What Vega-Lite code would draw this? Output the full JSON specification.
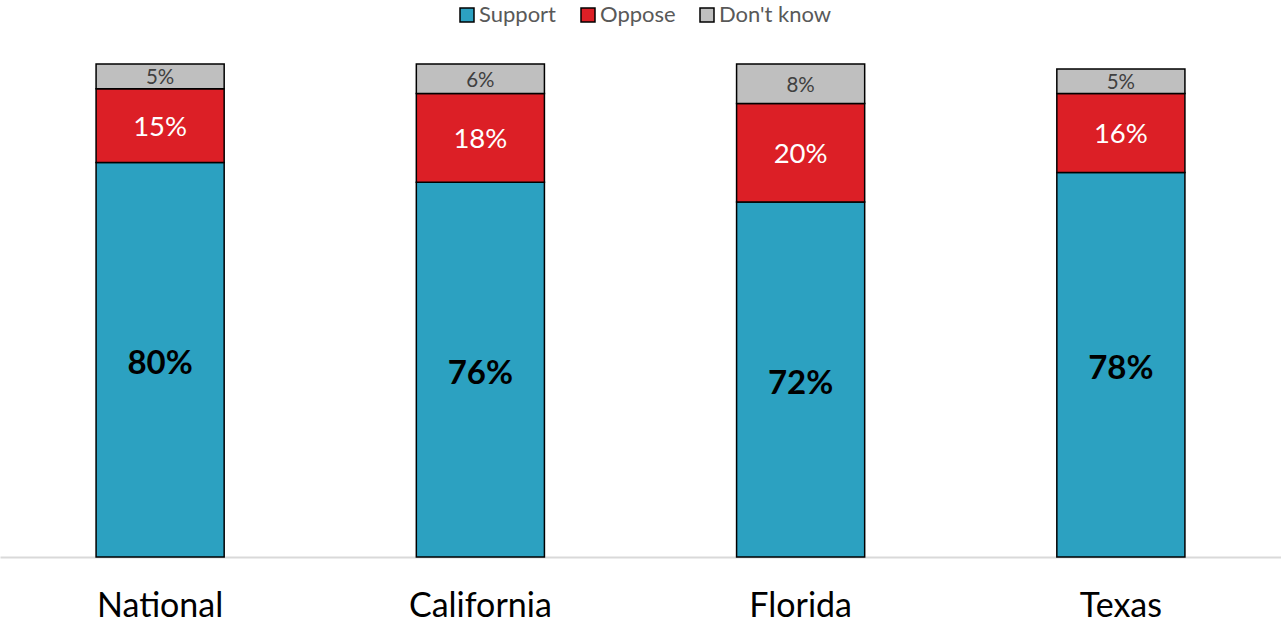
{
  "$schema": "https://vega.github.io/schema/vega-lite/v6.json",
  "width": 1281,
  "height": 493,
  "autosize": {"type": "none"},
  "padding": {"left": 0, "top": 64, "right": 0, "bottom": 67},
  "background": "white",
  "config": {"view": {"stroke": null}, "font": "Lato"},
  "data": {
    "values": [
      {"region": "National", "response": "Support", "pct": 80},
      {"region": "National", "response": "Oppose", "pct": 15},
      {"region": "National", "response": "Don't know", "pct": 5},
      {"region": "California", "response": "Support", "pct": 76},
      {"region": "California", "response": "Oppose", "pct": 18},
      {"region": "California", "response": "Don't know", "pct": 6},
      {"region": "Florida", "response": "Support", "pct": 72},
      {"region": "Florida", "response": "Oppose", "pct": 20},
      {"region": "Florida", "response": "Don't know", "pct": 8},
      {"region": "Texas", "response": "Support", "pct": 78},
      {"region": "Texas", "response": "Oppose", "pct": 16},
      {"region": "Texas", "response": "Don't know", "pct": 5}
    ]
  },
  "transform": [
    {"calculate": "indexof(['Support','Oppose',\"Don't know\"], datum.response)", "as": "rank"},
    {"stack": "pct", "groupby": ["region"], "sort": [{"field": "rank", "order": "ascending"}], "as": ["v0", "v1"]},
    {"calculate": "(datum.v0 + datum.v1) / 2", "as": "mid"},
    {"calculate": "datum.pct + '%'", "as": "label"}
  ],
  "encoding": {
    "x": {
      "field": "region", "type": "nominal",
      "sort": ["National", "California", "Florida", "Texas"],
      "scale": {"paddingInner": 0.6, "paddingOuter": 0.3},
      "axis": {
        "title": null, "labelAngle": 0, "ticks": false,
        "domainColor": "#D9D9D9", "domainWidth": 2,
        "labelFontSize": 34, "labelColor": "#000000", "labelPadding": 32,
        "labelFont": "Lato"
      }
    }
  },
  "layer": [
    {
      "mark": {"type": "bar", "stroke": "#000000", "strokeWidth": 1.5},
      "encoding": {
        "y": {"field": "v1", "type": "quantitative", "scale": {"domain": [0, 100]}, "axis": null},
        "y2": {"field": "v0"},
        "color": {
          "field": "response", "type": "nominal",
          "scale": {"domain": ["Support", "Oppose", "Don't know"], "range": ["#2CA1C1", "#DC1F26", "#BFBFBF"]},
          "legend": {
            "title": null, "orient": "none", "direction": "horizontal",
            "legendX": 456, "legendY": -60,
            "symbolType": "square", "symbolSize": 196,
            "symbolStrokeColor": "#000000", "symbolStrokeWidth": 1.5,
            "labelFontSize": 22, "labelColor": "#595959", "labelFont": "Lato",
            "columnPadding": 20, "labelOffset": 1
          }
        }
      }
    },
    {
      "transform": [{"filter": "datum.response == 'Support'"}],
      "mark": {"type": "text", "fontSize": 33, "fontWeight": "bold", "color": "#000000", "baseline": "middle", "dy": 4},
      "encoding": {
        "y": {"field": "mid", "type": "quantitative"},
        "text": {"field": "label"}
      }
    },
    {
      "transform": [{"filter": "datum.response == 'Oppose'"}],
      "mark": {"type": "text", "fontSize": 27.5, "color": "#FFFFFF", "baseline": "middle", "dy": 2},
      "encoding": {
        "y": {"field": "mid", "type": "quantitative"},
        "text": {"field": "label"}
      }
    },
    {
      "transform": [{"filter": "datum.response == \"Don't know\""}],
      "mark": {"type": "text", "fontSize": 20.5, "color": "#404040", "baseline": "middle", "dy": 2},
      "encoding": {
        "y": {"field": "mid", "type": "quantitative"},
        "text": {"field": "label"}
      }
    }
  ]
}
